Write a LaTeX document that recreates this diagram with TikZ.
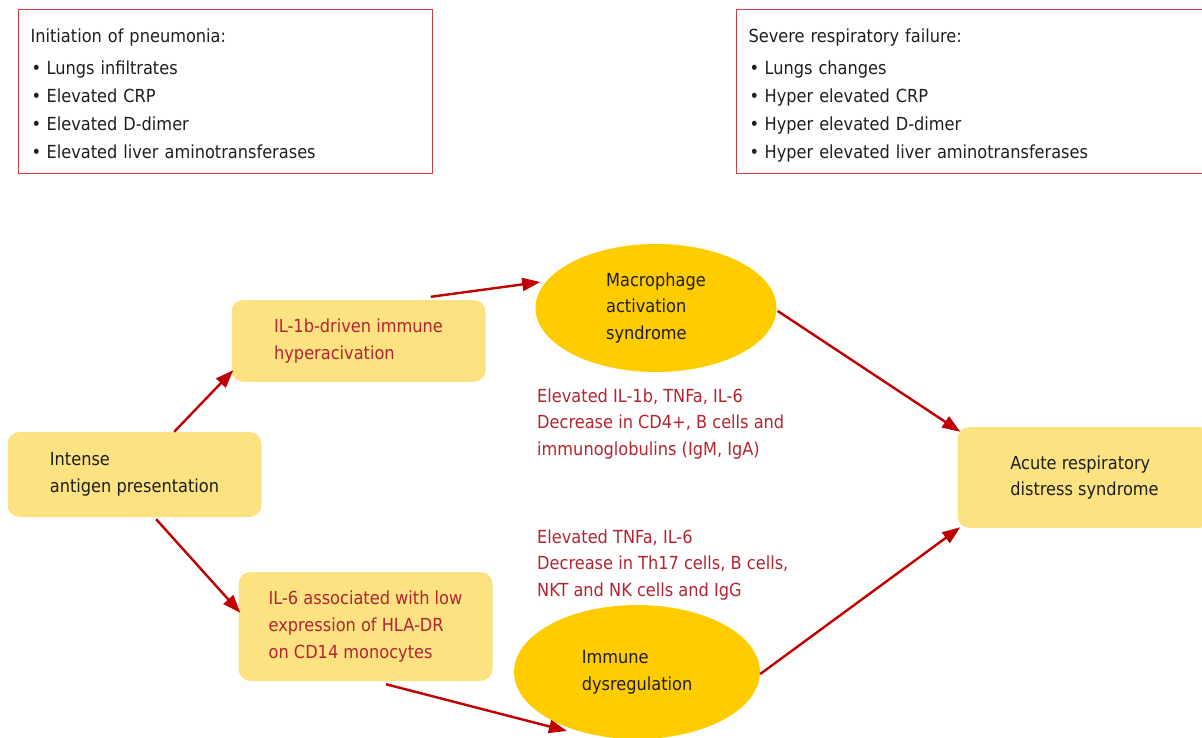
\documentclass[tikz,border=0pt]{standalone}
\usepackage{fontspec}
\setmainfont{DejaVu Sans Condensed}
\usetikzlibrary{arrows.meta,calc,shapes.geometric}
\definecolor{boxfill}{RGB}{253,226,130}
\definecolor{ellfill}{RGB}{255,204,0}
\definecolor{arrowred}{RGB}{192,0,0}
\definecolor{textred}{RGB}{178,36,48}
\definecolor{framered}{RGB}{204,64,64}
\definecolor{textdark}{RGB}{30,30,30}
\newcommand{\bul}{\makebox[16pt][l]{\hspace{1pt}\textbullet}}
\newcommand{\topstr}{\rule{0pt}{33pt}}
\newcommand{\botstr}{\rule[-15pt]{0pt}{15pt}}
\begin{document}
\begin{tikzpicture}[x=1pt,y=-1pt,
  font=\fontsize{18}{26.7}\selectfont,
  infobox/.style={draw=framered, line width=1.2pt, anchor=north west, align=left,
    inner xsep=12pt, inner ysep=0pt, text=textdark,
    font=\fontsize{18}{28}\selectfont},
  ybox/.style={fill=boxfill, rounded corners=12pt, minimum width=254pt, align=left,
    inner sep=0pt, text=textdark},
  yell/.style={ellipse, fill=ellfill, align=left, inner sep=0pt, text=textdark},
  note/.style={anchor=west, align=left, inner sep=0pt, text=textred},
  arr/.style={draw=arrowred, line width=2.4pt, -{Triangle[length=18pt,width=13pt]}}
]
\useasboundingbox (0,0) rectangle (1202,738);
\clip (0,0) rectangle (1202,738);

% info boxes
\node[infobox, text width=390pt] (init) at (18,9)
  {\topstr Initiation of pneumonia:\\[4pt]
   \bul Lungs infiltrates\\
   \bul Elevated CRP\\
   \bul Elevated D-dimer\\
   \bul Elevated liver aminotransferases\botstr};
\node[infobox, text width=456pt] (sev) at (736,9)
  {\topstr Severe respiratory failure:\\[4pt]
   \bul Lungs changes\\
   \bul Hyper elevated CRP\\
   \bul Hyper elevated D-dimer\\
   \bul Hyper elevated liver aminotransferases\botstr};

% diagram nodes
\node[ybox, minimum height=85pt] (int) at (134.5,474.5) {Intense\\antigen presentation};
\node[ybox, minimum height=82pt, text=textred] (il1) at (358.5,341) {IL-1b-driven immune\\hyperacivation};
\node[ybox, minimum height=109pt, text=textred] (il6) at (365.5,626.5) {IL-6 associated with low\\expression of HLA-DR\\on CD14 monocytes};
\node[ybox, minimum height=101pt] (ards) at (1084.5,477.5) {Acute respiratory\\distress syndrome};
\node[yell, minimum width=241pt, minimum height=128pt] (mac) at (656,308) {Macrophage\\activation\\syndrome};
\node[yell, minimum width=246pt, minimum height=134pt] (dys) at (637,672) {Immune\\dysregulation};

\node[note] (lab1) at (537,424) {Elevated IL-1b, TNFa, IL-6\\Decrease in CD4+, B cells and\\immunoglobulins (IgM, IgA)};
\node[note] (lab2) at (537,565) {Elevated TNFa, IL-6\\Decrease in Th17 cells, B cells,\\NKT and NK cells and IgG};

% connectors
\draw[arr] ($(int.north west)!0.656!(int.north east)$) -- ($(il1.south west)+(2,-12)$);
\draw[arr] ($(il1.north west)!0.784!(il1.north east)+(0,-3)$) -- ($(mac.west)+(5,-26)$);
\draw[arr] ($(mac.east)+(1,3)$) -- ($(ards.north west)+(3,5)$);
\draw[arr] ($(int.south west)!0.585!(int.south east)+(0,2)$) -- ($(il6.north west)+(2,41)$);
\draw[arr] ($(il6.south west)!0.58!(il6.south east)+(0,3)$) -- ($(dys.center)+(-70,59)$);
\draw[arr] ($(dys.east)+(0,2)$) -- ($(ards.south west)+(3,-1)$);
\end{tikzpicture}
\end{document}
